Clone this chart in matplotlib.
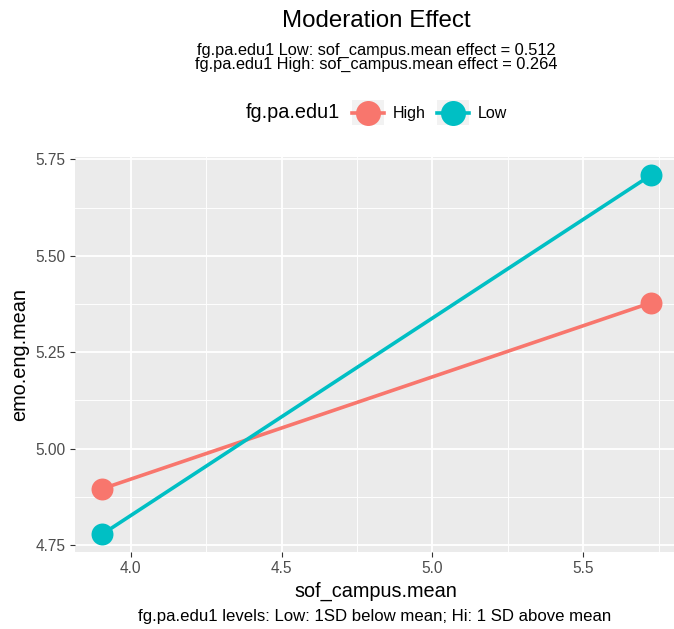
import matplotlib
matplotlib.use("Agg")
import matplotlib.pyplot as plt
from matplotlib.legend_handler import HandlerBase
from matplotlib.patches import Rectangle
from matplotlib.lines import Line2D
import numpy as np

plt.rcParams['font.family'] = ['Liberation Sans', 'DejaVu Sans']

# ---- data ----
x_levels = [3.906, 5.724]          # sof_campus.mean (-1SD, +1SD)
groups = ["High", "Low"]
y_high = [4.896, 5.378]            # emo.eng.mean, fg.pa.edu1 High
y_low = [4.7785, 5.709]            # emo.eng.mean, fg.pa.edu1 Low
colors = {"High": "#F8766D", "Low": "#00BFC4"}
x_ticks = [4.0, 4.5, 5.0, 5.5]
y_ticks = [4.75, 5.00, 5.25, 5.50, 5.75]
x_minor_ticks = [4.25, 4.75, 5.25, 5.75]
y_minor_ticks = [4.875, 5.125, 5.375, 5.625]

title = "Moderation Effect"
subtitle1 = "fg.pa.edu1 Low: sof_campus.mean effect = 0.512"
subtitle2 = "fg.pa.edu1 High: sof_campus.mean effect = 0.264"
legend_title = "fg.pa.edu1"
xlabel = "sof_campus.mean"
ylabel = "emo.eng.mean"
caption = "fg.pa.edu1 levels: Low: 1SD below mean; Hi: 1 SD above mean"

W, H = 674, 629
fig = plt.figure(figsize=(W / 100, H / 100), dpi=100)
fig.patch.set_facecolor("white")

pl, pr, pt, pb = 75, 678.3, 157.2, 552
ax = fig.add_axes([pl / W, (H - pb) / H, (pr - pl) / W, (pb - pt) / H])
ax.set_facecolor("#EBEBEB")
for s in ax.spines.values():
    s.set_visible(False)

LW = 2.6
series = {"High": y_high, "Low": y_low}
handles = []
for g in groups:
    ln, = ax.plot(x_levels, series[g], color=colors[g], lw=LW, marker="o",
                  markersize=15.8, markeredgewidth=0, solid_capstyle="butt",
                  zorder=3, label=g, clip_on=False)
    handles.append(ln)

ax.set_xticks(x_ticks)
ax.set_xticklabels([f"{v:.1f}" for v in x_ticks])
ax.set_yticks(y_ticks)
ax.set_yticklabels([f"{v:.2f}" for v in y_ticks])
ax.set_xticks(x_minor_ticks, minor=True)
ax.set_yticks(y_minor_ticks, minor=True)

# expansion like ggplot (5%), set after ticks so ticks don't widen limits
allx = np.array(x_levels)
ally = np.array(y_high + y_low)
dx = (allx.max() - allx.min()) * 0.05
dy = (ally.max() - ally.min()) * 0.05
ax.set_xlim(allx.min() - dx, allx.max() + dx)
ax.set_ylim(ally.min() - dy, ally.max() + dy)

ax.tick_params(which="major", length=3.6, width=0.8, color="#333333",
               labelsize=11.2, labelcolor="#4D4D4D", pad=3.2)
ax.tick_params(which="minor", length=0)
ax.grid(which="major", color="white", lw=1.3)
ax.grid(which="minor", color="white", lw=0.65)
ax.set_axisbelow(True)

# titles
fig.text(376 / W, 1 - 27.3 / H, title, ha="center", va="baseline", fontsize=17.4)
fig.text(376 / W, 1 - 72 / H, subtitle1 + "\n" + subtitle2, ha="center",
         va="bottom", fontsize=11.8, linespacing=0.93)

fig.text(376 / W, 1 - 596.5 / H, xlabel, ha="center", va="baseline", fontsize=14.3)
fig.text(20 / W, (H - 354.6) / H, ylabel, ha="center", va="center",
         rotation=90, fontsize=14.3)
fig.text(375 / W, 1 - 621 / H, caption, ha="center", va="baseline", fontsize=12.1)

# legend
class KeyHandler(HandlerBase):
    def create_artists(self, legend, orig_handle, xdescent, ydescent,
                       width, height, fontsize, trans):
        rect = Rectangle((-xdescent, -ydescent), width, height,
                         facecolor="#F2F2F2", edgecolor="none", transform=trans)
        cy = -ydescent + height / 2
        line = Line2D([-xdescent, -xdescent + width], [cy, cy],
                      color=orig_handle.get_color(), lw=LW, transform=trans)
        pt_ = Line2D([-xdescent + width / 2], [cy], marker="o", markersize=18,
                     markeredgewidth=0, color=orig_handle.get_color(),
                     linestyle="none", transform=trans)
        return [rect, line, pt_]

fig.text(246 / W, 1 - 118.3 / H, legend_title, ha="left", va="baseline", fontsize=14.3)
leg_fs = 11.5
key_px = 32
em_px = leg_fs * 100 / 72
leg = fig.legend(handles=handles, labels=groups, ncol=2, frameon=False,
                 loc="center left", bbox_to_anchor=(352 / W, 1 - 112.5 / H),
                 bbox_transform=fig.transFigure, borderpad=0, borderaxespad=0,
                 handlelength=key_px / em_px, handleheight=key_px / em_px,
                 handletextpad=9 / em_px, columnspacing=11 / em_px,
                 fontsize=leg_fs, handler_map={Line2D: KeyHandler()})

fig.savefig("out.png", dpi=100)
